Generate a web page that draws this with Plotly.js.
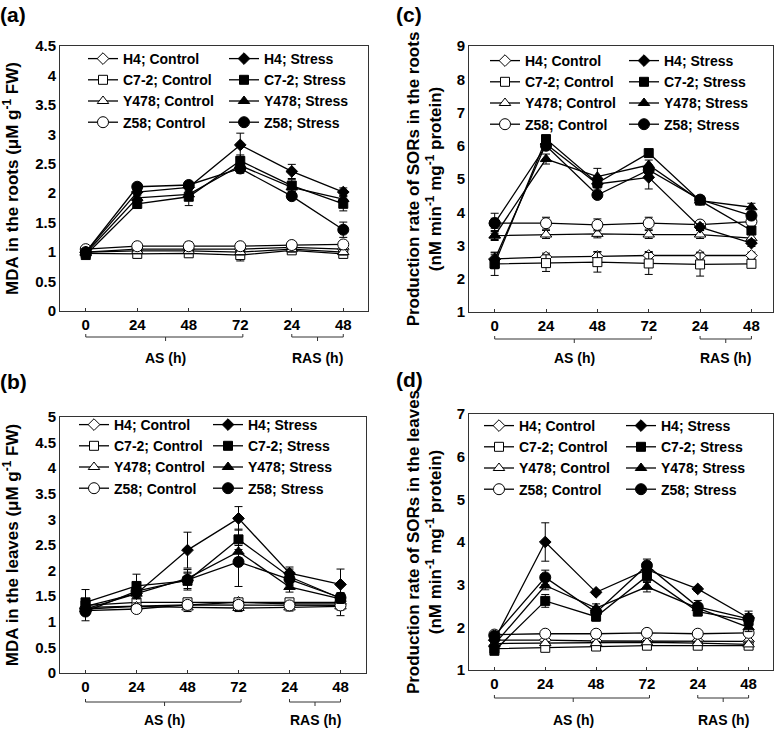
<!DOCTYPE html>
<html><head><meta charset="utf-8">
<script src="https://cdn.plot.ly/plotly-3.0.1.min.js"></script>
<style>html,body{margin:0;padding:0;background:#fff}#chart{width:777px;height:730px}</style>
</head><body><div id="chart"></div>
<script>
// ---------- data ----------
const timeIdx = [0, 1, 2, 3, 4, 5];
const timeLabels = ['0', '24', '48', '72', '24', '48'];
const genotypes = ['H4', 'C7-2', 'Y478', 'Z58'];

// (a) MDA in the roots
const a_ctrl_H4   = [1.00, 1.05, 1.05, 1.05, 1.08, 1.05];
const a_ctrl_C72  = [0.98, 0.97, 0.98, 0.95, 1.03, 0.97];
const a_ctrl_Y478 = [1.00, 1.02, 1.02, 1.00, 1.05, 1.00];
const a_ctrl_Z58  = [1.05, 1.10, 1.10, 1.10, 1.12, 1.13];
const a_ctrlErr_H4   = [0.05, 0.05, 0.06, 0.05, 0.05, 0.05];
const a_ctrlErr_C72  = [0.05, 0.07, 0.06, 0.10, 0.05, 0.07];
const a_ctrlErr_Y478 = [0.05, 0.05, 0.05, 0.05, 0.05, 0.05];
const a_ctrlErr_Z58  = [0.05, 0.05, 0.07, 0.05, 0.06, 0.05];
const a_str_H4   = [1.00, 2.02, 2.10, 2.82, 2.37, 2.02];
const a_str_C72  = [0.95, 1.82, 1.94, 2.55, 2.13, 1.82];
const a_str_Y478 = [0.98, 1.92, 1.98, 2.47, 2.10, 1.90];
const a_str_Z58  = [1.00, 2.11, 2.14, 2.42, 1.95, 1.38];
const a_strErr_H4   = [0.05, 0.05, 0.05, 0.20, 0.12, 0.07];
const a_strErr_C72  = [0.05, 0.08, 0.15, 0.10, 0.10, 0.12];
const a_strErr_Y478 = [0.05, 0.05, 0.05, 0.10, 0.08, 0.06];
const a_strErr_Z58  = [0.05, 0.05, 0.05, 0.08, 0.05, 0.13];

// (b) MDA in the leaves
const b_ctrl_H4   = [1.28, 1.30, 1.33, 1.38, 1.35, 1.35];
const b_ctrl_C72  = [1.32, 1.38, 1.38, 1.38, 1.38, 1.38];
const b_ctrl_Y478 = [1.25, 1.30, 1.28, 1.27, 1.28, 1.30];
const b_ctrl_Z58  = [1.22, 1.25, 1.33, 1.33, 1.32, 1.32];
const b_ctrlErr_H4   = [0.05, 0.05, 0.05, 0.05, 0.05, 0.05];
const b_ctrlErr_C72  = [0.06, 0.06, 0.08, 0.06, 0.06, 0.06];
const b_ctrlErr_Y478 = [0.07, 0.07, 0.08, 0.07, 0.07, 0.07];
const b_ctrlErr_Z58  = [0.05, 0.05, 0.05, 0.05, 0.05, 0.20];
const b_str_H4   = [1.25, 1.55, 2.40, 3.02, 1.95, 1.73];
const b_str_C72  = [1.38, 1.70, 1.80, 2.61, 1.88, 1.46];
const b_str_Y478 = [1.30, 1.55, 1.85, 2.37, 1.68, 1.45];
const b_str_Z58  = [1.20, 1.60, 1.82, 2.17, 1.83, 1.47];
const b_strErr_H4   = [0.10, 0.10, 0.35, 0.23, 0.12, 0.30];
const b_strErr_C72  = [0.25, 0.23, 0.15, 0.20, 0.15, 0.10];
const b_strErr_Y478 = [0.10, 0.10, 0.12, 0.12, 0.10, 0.08];
const b_strErr_Z58  = [0.18, 0.10, 0.20, 0.48, 0.12, 0.10];

// (c) production rate of SORs in the roots
const c_ctrl_H4   = [2.60, 2.65, 2.67, 2.70, 2.70, 2.70];
const c_ctrl_C72  = [2.45, 2.47, 2.50, 2.46, 2.43, 2.45];
const c_ctrl_Y478 = [3.30, 3.33, 3.35, 3.33, 3.33, 3.22];
const c_ctrl_Z58  = [3.67, 3.67, 3.62, 3.67, 3.63, 3.72];
const c_ctrlErr_H4   = [0.12, 0.12, 0.15, 0.12, 0.10, 0.10];
const c_ctrlErr_C72  = [0.35, 0.25, 0.30, 0.33, 0.35, 0.10];
const c_ctrlErr_Y478 = [0.12, 0.12, 0.12, 0.12, 0.12, 0.12];
const c_ctrlErr_Z58  = [0.30, 0.18, 0.18, 0.18, 0.10, 0.10];
const c_str_H4   = [2.58, 6.05, 4.85, 5.05, 3.55, 3.07];
const c_str_C72  = [2.45, 6.20, 4.88, 5.78, 4.35, 3.45];
const c_str_Y478 = [3.30, 5.60, 5.07, 5.42, 4.35, 4.15];
const c_str_Z58  = [3.67, 6.00, 4.52, 5.27, 4.38, 3.90];
const c_strErr_H4   = [0.20, 0.10, 0.15, 0.35, 0.10, 0.10];
const c_strErr_C72  = [0.15, 0.10, 0.10, 0.10, 0.10, 0.10];
const c_strErr_Y478 = [0.15, 0.15, 0.25, 0.15, 0.10, 0.12];
const c_strErr_Z58  = [0.15, 0.10, 0.10, 0.15, 0.10, 0.10];

// (d) production rate of SORs in the leaves
const d_ctrl_H4   = [1.70, 1.70, 1.68, 1.68, 1.68, 1.67];
const d_ctrl_C72  = [1.50, 1.52, 1.55, 1.57, 1.57, 1.57];
const d_ctrl_Y478 = [1.62, 1.63, 1.63, 1.65, 1.63, 1.60];
const d_ctrl_Z58  = [1.83, 1.85, 1.85, 1.87, 1.85, 1.87];
const d_ctrlErr_H4   = [0.04, 0.04, 0.04, 0.04, 0.04, 0.04];
const d_ctrlErr_C72  = [0.04, 0.04, 0.04, 0.04, 0.04, 0.04];
const d_ctrlErr_Y478 = [0.04, 0.04, 0.04, 0.04, 0.04, 0.04];
const d_ctrlErr_Z58  = [0.04, 0.04, 0.04, 0.04, 0.04, 0.04];
const d_str_H4   = [1.70, 4.00, 2.82, 3.35, 2.90, 2.22];
const d_str_C72  = [1.45, 2.62, 2.25, 3.20, 2.37, 2.15];
const d_str_Y478 = [1.60, 2.98, 2.45, 2.95, 2.45, 2.00];
const d_str_Z58  = [1.80, 3.17, 2.35, 3.45, 2.48, 2.20];
const d_strErr_H4   = [0.05, 0.45, 0.05, 0.10, 0.05, 0.10];
const d_strErr_C72  = [0.05, 0.15, 0.10, 0.15, 0.10, 0.10];
const d_strErr_Y478 = [0.05, 0.10, 0.10, 0.12, 0.10, 0.10];
const d_strErr_Z58  = [0.05, 0.17, 0.10, 0.15, 0.15, 0.18];

// ---------- styling / layout ----------
const W = 777, H = 730;
const px = v => v / W;
const py = v => 1 - v / H;
const FONT = 'Liberation Sans, Arial, sans-serif';
const symbols = ['diamond', 'square', 'triangle-up', 'circle'];
const sizes = [9, 9, 10, 11];

const panels = [
  { ax: '', lab: '(a)', ctrl: [a_ctrl_H4, a_ctrl_C72, a_ctrl_Y478, a_ctrl_Z58],
    ctrlErr: [a_ctrlErr_H4, a_ctrlErr_C72, a_ctrlErr_Y478, a_ctrlErr_Z58],
    str: [a_str_H4, a_str_C72, a_str_Y478, a_str_Z58],
    strErr: [a_strErr_H4, a_strErr_C72, a_strErr_Y478, a_strErr_Z58],
    yTitle: 'MDA in the roots (μM g<sup>-1</sup> FW)', yRange: [0, 4.5], dtick: 0.5, standoff: 14,
    xDom: [60, 368], yDom: [46, 311], xMax: 5.48, legX: [83, 224], legTop: 43,
    brY: 337, labY: 358, labPos: [13, 15] },
  { ax: '2', lab: '(b)', ctrl: [b_ctrl_H4, b_ctrl_C72, b_ctrl_Y478, b_ctrl_Z58],
    ctrlErr: [b_ctrlErr_H4, b_ctrlErr_C72, b_ctrlErr_Y478, b_ctrlErr_Z58],
    str: [b_str_H4, b_str_C72, b_str_Y478, b_str_Z58],
    strErr: [b_strErr_H4, b_strErr_C72, b_strErr_Y478, b_strErr_Z58],
    yTitle: 'MDA in the leaves (μM g<sup>-1</sup> FW)', yRange: [0, 5], dtick: 0.5, standoff: 14,
    xDom: [60, 366], yDom: [417, 673], xMax: 5.5, legX: [74, 208], legTop: 409,
    brY: 702, labY: 720, labPos: [13, 381] },
  { ax: '3', lab: '(c)', ctrl: [c_ctrl_H4, c_ctrl_C72, c_ctrl_Y478, c_ctrl_Z58],
    ctrlErr: [c_ctrlErr_H4, c_ctrlErr_C72, c_ctrlErr_Y478, c_ctrlErr_Z58],
    str: [c_str_H4, c_str_C72, c_str_Y478, c_str_Z58],
    strErr: [c_strErr_H4, c_strErr_C72, c_strErr_Y478, c_strErr_Z58],
    yTitle: 'Production rate of SORs in the roots<br>(nM min<sup>-1</sup> mg<sup>-1</sup> protein)',
    yRange: [1, 9], dtick: 1, standoff: 10,
    xDom: [469, 773], yDom: [46, 312], xMax: 5.42, legX: [485, 624], legTop: 45,
    brY: 339, labY: 358, labPos: [409, 15] },
  { ax: '4', lab: '(d)', ctrl: [d_ctrl_H4, d_ctrl_C72, d_ctrl_Y478, d_ctrl_Z58],
    ctrlErr: [d_ctrlErr_H4, d_ctrlErr_C72, d_ctrlErr_Y478, d_ctrlErr_Z58],
    str: [d_str_H4, d_str_C72, d_str_Y478, d_str_Z58],
    strErr: [d_strErr_H4, d_strErr_C72, d_strErr_Y478, d_strErr_Z58],
    yTitle: 'Production rate of SORs in the leaves<br>(nM min<sup>-1</sup> mg<sup>-1</sup> protein)',
    yRange: [1, 7], dtick: 1, standoff: 10,
    xDom: [469, 773], yDom: [414, 670], xMax: 5.48, legX: [479, 621], legTop: 410,
    brY: 698, labY: 720, labPos: [409, 379] }
];

const traces = [];
const layout = {
  width: W, height: H, margin: { l: 0, r: 0, t: 0, b: 0 },
  paper_bgcolor: '#fff', plot_bgcolor: '#fff',
  font: { family: FONT, size: 15, color: '#000', weight: 700 },
  showlegend: true, shapes: [], annotations: []
};

let legendCount = 0;
const legendName = () => { legendCount++; return legendCount === 1 ? 'legend' : 'legend' + legendCount; };

panels.forEach(p => {
  const xa = 'x' + p.ax, ya = 'y' + p.ax;
  const legC = legendName(), legS = legendName();
  const groups = [
    { data: p.ctrl, err: p.ctrlErr, fill: '#fff', name: 'Control', leg: legC },
    { data: p.str, err: p.strErr, fill: '#000', name: 'Stress', leg: legS }
  ];
  groups.forEach(g => {
    genotypes.forEach((gen, i) => {
      traces.push({
        type: 'scatter', mode: 'lines+markers', x: timeIdx, y: g.data[i],
        xaxis: xa, yaxis: ya, legend: g.leg, name: gen + '; ' + g.name,
        line: { color: '#000', width: 1.3 },
        marker: { symbol: symbols[i], size: sizes[i], color: g.fill, line: { color: '#000', width: 1 } },
        error_y: { type: 'data', array: g.err[i], visible: true, color: '#000', thickness: 1, width: 4 },
        cliponaxis: false, hoverinfo: 'x+y+name'
      });
    });
  });
  const legendBase = {
    orientation: 'v', xanchor: 'left', yanchor: 'top', bgcolor: 'rgba(0,0,0,0)', borderwidth: 0,
    font: { family: FONT, size: 14, color: '#000', weight: 700 }, tracegroupgap: 0
  };
  layout[legC] = Object.assign({}, legendBase, { x: px(p.legX[0]), y: py(p.legTop) });
  layout[legS] = Object.assign({}, legendBase, { x: px(p.legX[1]), y: py(p.legTop) });

  layout['xaxis' + p.ax] = {
    domain: [px(p.xDom[0]), px(p.xDom[1])], anchor: ya, range: [-0.5, p.xMax],
    tickmode: 'array', tickvals: timeIdx, ticktext: timeLabels,
    ticks: 'inside', ticklen: 3, tickcolor: '#333', showgrid: false, zeroline: false,
    showline: true, linecolor: '#333', linewidth: 1, mirror: true,
    tickfont: { family: FONT, size: 15, color: '#000', weight: 700 }, fixedrange: true
  };
  layout['yaxis' + p.ax] = {
    domain: [py(p.yDom[1]), py(p.yDom[0])], anchor: xa, range: p.yRange, dtick: p.dtick,
    ticks: '', showgrid: false, zeroline: false,
    showline: true, linecolor: '#333', linewidth: 1, mirror: true,
    tickfont: { family: FONT, size: 15, color: '#000', weight: 700 }, fixedrange: true,
    title: { text: p.yTitle, font: { family: FONT, size: 17, color: '#000', weight: 700 }, standoff: p.standoff }
  };

  // brackets under the x axis: AS (0..72 h) and RAS (24..48 h)
  const yb = py(p.brY), yUp = py(p.brY - 3), yDn = py(p.brY + 4);
  [[timeIdx[0], timeIdx[3] + 0.05, 1.55], [timeIdx[4], timeIdx[5], 4.5]].forEach(b => {
    layout.shapes.push({
      type: 'path', xref: xa, yref: 'paper',
      path: `M${b[0]},${yUp} L${b[0]},${yb} L${b[1]},${yb} L${b[1]},${yUp} M${b[2]},${yb} L${b[2]},${yDn}`,
      line: { color: '#333', width: 1 }
    });
  });
  layout.annotations.push(
    { text: 'AS (h)', xref: xa, yref: 'paper', x: 1.55, y: py(p.labY), showarrow: false,
      xanchor: 'center', yanchor: 'middle', font: { family: FONT, size: 14, color: '#000', weight: 700 } },
    { text: 'RAS (h)', xref: xa, yref: 'paper', x: 4.5, y: py(p.labY), showarrow: false,
      xanchor: 'center', yanchor: 'middle', font: { family: FONT, size: 14, color: '#000', weight: 700 } },
    { text: p.lab, xref: 'paper', yref: 'paper', x: px(p.labPos[0]), y: py(p.labPos[1]), showarrow: false,
      xanchor: 'center', yanchor: 'middle', font: { family: FONT, size: 21, color: '#000', weight: 700 } }
  );
});

Plotly.newPlot('chart', traces, layout, { displayModeBar: false, staticPlot: true });
</script>
</body></html>
